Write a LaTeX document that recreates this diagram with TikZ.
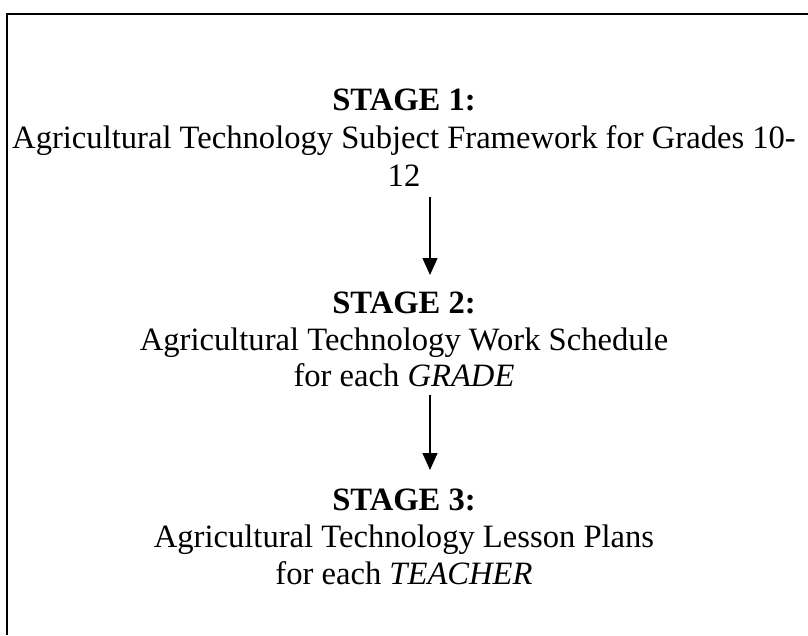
\documentclass[tikz,border=0pt]{standalone}
\usepackage{fontspec}
\setmainfont{Liberation Serif}
\usetikzlibrary{arrows.meta}
\begin{document}
\begin{tikzpicture}[x=1pt,y=-1pt,
  txt/.style={inner sep=0pt,outer sep=0pt,anchor=base,text height=23pt,text depth=7pt,font=\fontsize{32.6}{38}\selectfont},
  hd/.style={txt,font=\fontsize{32.6}{38}\selectfont\bfseries},
  arr/.style={line width=1.3pt,-{Triangle[width=15pt,length=17pt]}},
  frame/.style={line width=2.2pt}]
\useasboundingbox (0,0) rectangle (808,635);
\draw[frame] (7,635) -- (7,14) -- (808,14);
\coordinate (ax) at (430,0);
% Stage 1
\node[hd]  (s1a) at (404,110) {STAGE 1:};
\node[txt] (s1b) at (404,148) {Agricultural Technology Subject Framework for Grades 10-};
\node[txt] (s1c) at (404,186) {12};
% Stage 2
\node[hd]  (s2a) at (404,313) {STAGE 2:};
\node[txt] (s2b) at (404,350) {Agricultural Technology Work Schedule};
\node[txt] (s2c) at (404,386) {for each \textit{GRADE}};
% Stage 3
\node[hd]  (s3a) at (404,510) {STAGE 3:};
\node[txt] (s3b) at (404,547) {Agricultural Technology Lesson Plans};
\node[txt] (s3c) at (404,584) {for each \textit{TEACHER}};
% arrows
\draw[arr,shorten <=4pt,shorten >=15pt] (s1c.south -| ax) -- (s2a.north -| ax);
\draw[arr,shorten <=2pt,shorten >=17pt] (s2c.south -| ax) -- (s3a.north -| ax);
\end{tikzpicture}
\end{document}
